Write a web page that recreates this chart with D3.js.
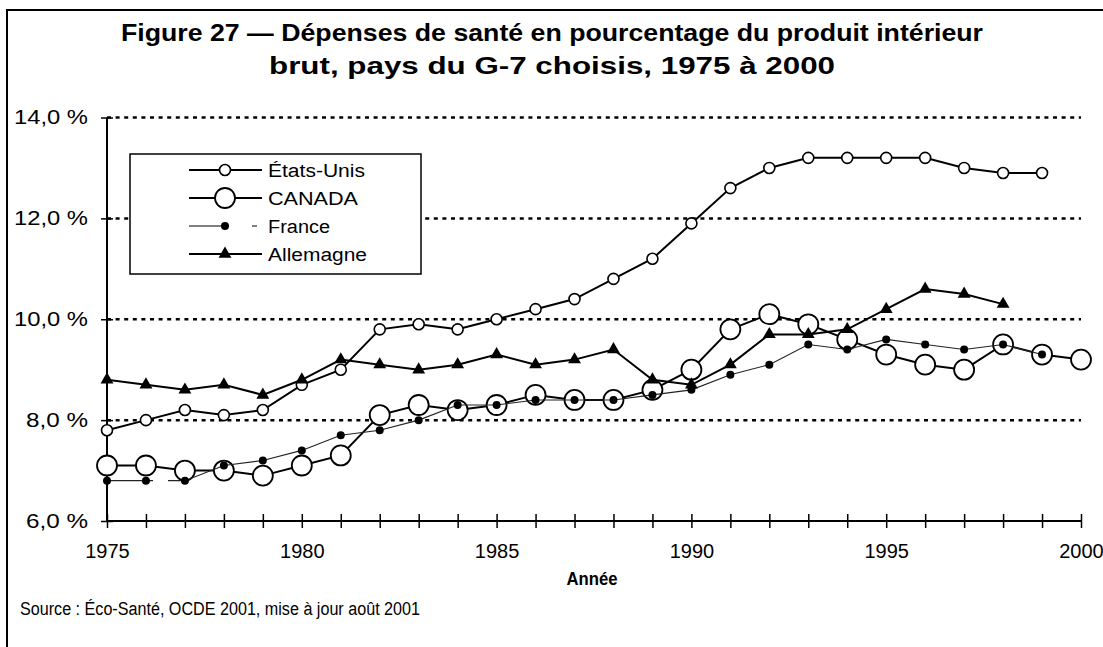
<!DOCTYPE html>
<html>
<head>
<meta charset="utf-8">
<script src="https://cdn.jsdelivr.net/npm/d3@7"></script>
<style>
  body { margin: 0; background: #fff; }
  svg { font-family: "Liberation Sans", Arial, sans-serif; }
</style>
</head>
<body>
<script>
// data (%, 1975 -> 2000)
var years = [1975,1976,1977,1978,1979,1980,1981,1982,1983,1984,1985,1986,1987,
             1988,1989,1990,1991,1992,1993,1994,1995,1996,1997,1998,1999,2000];
var usValues      = [7.8,8.0,8.2,8.1,8.2,8.7,9.0,9.8,9.9,9.8,10.0,10.2,10.4,10.8,11.2,11.9,12.6,13.0,13.2,13.2,13.2,13.2,13.0,12.9,12.9,null];
var canadaValues  = [7.1,7.1,7.0,7.0,6.9,7.1,7.3,8.1,8.3,8.2,8.3,8.5,8.4,8.4,8.6,9.0,9.8,10.1,9.9,9.6,9.3,9.1,9.0,9.5,9.3,9.2];
var franceValues  = [6.8,6.8,6.8,7.1,7.2,7.4,7.7,7.8,8.0,8.3,8.3,8.4,8.4,8.4,8.5,8.6,8.9,9.1,9.5,9.4,9.6,9.5,9.4,9.5,9.3,null];
var germanyValues = [8.8,8.7,8.6,8.7,8.5,8.8,9.2,9.1,9.0,9.1,9.3,9.1,9.2,9.4,8.8,8.7,9.1,9.7,9.7,9.8,10.2,10.6,10.5,10.3,null,null];
var seriesNames = ["États-Unis", "CANADA", "France", "Allemagne"];
var yTicks = [6, 8, 10, 12, 14];
var xLabelYears = [1975, 1980, 1985, 1990, 1995, 2000];

var titleLines = ["Figure 27 — Dépenses de santé en pourcentage du produit intérieur",
                  "brut, pays du G-7 choisis, 1975 à 2000"];
var sourceText = "Source : Éco-Santé, OCDE 2001, mise à jour août 2001";

var W = 1103, H = 647;
var svg = d3.select("body").append("svg")
    .attr("width", W).attr("height", H);

// outer frame (only top and left edges fall inside the picture)
svg.append("rect")
    .attr("x", 7).attr("y", 10).attr("width", 1110).attr("height", 700)
    .attr("fill", "#fff").attr("stroke", "#000").attr("stroke-width", 2);

// title
svg.selectAll(".title").data(titleLines).enter().append("text")
    .attr("class", "title")
    .attr("x", 552)
    .attr("y", function(d, i) { return 41 + i * 33; })
    .attr("text-anchor", "middle")
    .attr("textLength", function(d, i) { return i == 0 ? 862 : 566; })
    .attr("lengthAdjust", "spacingAndGlyphs")
    .style("font-size", "24px").style("font-weight", "bold")
    .text(function(d) { return d; });

var xScale = d3.scaleLinear().domain([1975, 2000]).range([107, 1081]);
var yScale = d3.scaleLinear().domain([6, 14]).range([521, 117.5]);

// dotted gridlines
svg.append("g").selectAll("line")
    .data(yTicks.filter(function(d) { return d > 6; }))
    .enter().append("line")
    .attr("x1", xScale(1975)).attr("x2", xScale(2000))
    .attr("y1", function(d) { return yScale(d); })
    .attr("y2", function(d) { return yScale(d); })
    .attr("stroke", "#000").attr("stroke-width", 2.5)
    .attr("stroke-dasharray", "4,4.6");

// y axis
var yAxis = d3.axisLeft(yScale).tickValues(yTicks).tickSize(6)
    .tickFormat(function(d) { return d3.format(".1f")(d).replace(".", ",") + " %"; });
var gy = svg.append("g")
    .attr("transform", "translate(" + xScale(1975) + ",0)")
    .call(yAxis);
gy.select(".domain").attr("stroke-width", 2).attr("d", "M0," + yScale(14) + "V" + yScale(6));
gy.selectAll(".tick line").attr("x1", 6).attr("x2", -6).attr("stroke-width", 1.5);
gy.selectAll(".tick text").attr("x", -19)
    .attr("textLength", function(d) { return d >= 10 ? 74 : 62; })
    .attr("lengthAdjust", "spacingAndGlyphs")
    .attr("font-size", 20).attr("font-family", "Liberation Sans, Arial, sans-serif")
    .attr("fill", "#000");

// x axis
var xAxis = d3.axisBottom(xScale).tickValues(years).tickSize(6)
    .tickFormat(function(d) { return xLabelYears.indexOf(d) >= 0 ? d : ""; });
var gx = svg.append("g")
    .attr("transform", "translate(0," + yScale(6) + ")")
    .call(xAxis);
gx.select(".domain").attr("stroke-width", 2).attr("d", "M" + xScale(1975) + ",0H" + xScale(2000));
gx.selectAll(".tick line").attr("y1", -7).attr("y2", 7).attr("stroke-width", 1.5);
gx.selectAll(".tick text").attr("y", 23)
    .attr("font-size", 20).attr("font-family", "Liberation Sans, Arial, sans-serif")
    .attr("fill", "#000");

svg.append("text")
    .attr("x", 592).attr("y", 585)
    .attr("text-anchor", "middle")
    .attr("textLength", 51).attr("lengthAdjust", "spacingAndGlyphs")
    .style("font-size", "18px").style("font-weight", "bold")
    .text("Année");

svg.append("text")
    .attr("x", 20).attr("y", 615)
    .attr("textLength", 400).attr("lengthAdjust", "spacingAndGlyphs")
    .style("font-size", "18px")
    .text(sourceText);

// series
function toPoints(vals) {
    return years.map(function(y, i) { return {year: y, value: vals[i]}; })
        .filter(function(d) { return d.value != null; });
}
var line = d3.line()
    .x(function(d) { return xScale(d.year); })
    .y(function(d) { return yScale(d.value); });

var series = [
    {name: seriesNames[0], values: toPoints(usValues),      width: 2,   dash: null,          marker: "smallCircle"},
    {name: seriesNames[1], values: toPoints(canadaValues),  width: 2,   dash: null,          marker: "bigCircle"},
    {name: seriesNames[2], values: toPoints(franceValues),  width: 1.1, dash: "46,15,2000",  marker: "dot"},
    {name: seriesNames[3], values: toPoints(germanyValues), width: 2,   dash: null,          marker: "triangle"}
];

function drawMarker(sel, type) {
    if (type == "smallCircle") {
        sel.append("circle").attr("r", 5.5)
            .attr("fill", "#fff").attr("stroke", "#000").attr("stroke-width", 1.6);
    } else if (type == "bigCircle") {
        sel.append("circle").attr("r", 10)
            .attr("fill", "#fff").attr("stroke", "#000").attr("stroke-width", 1.8);
    } else if (type == "dot") {
        sel.append("circle").attr("r", 4).attr("fill", "#000");
    } else {
        sel.append("path").attr("d", d3.symbol().type(d3.symbolTriangle).size(72))
            .attr("fill", "#000");
    }
}

series.forEach(function(s) {
    var g = svg.append("g").attr("class", "series");
    g.append("path")
        .datum(s.values)
        .attr("d", line)
        .attr("fill", "none")
        .attr("stroke", s.marker == "dot" ? "#222" : "#000")
        .attr("stroke-width", s.width)
        .attr("stroke-dasharray", s.dash);
    var m = g.selectAll(".m").data(s.values).enter().append("g")
        .attr("class", "m")
        .attr("transform", function(d) { return "translate(" + xScale(d.year) + "," + yScale(d.value) + ")"; });
    drawMarker(m, s.marker);
});

// legend
var legend = svg.append("g");
legend.append("rect")
    .attr("x", 130).attr("y", 154).attr("width", 291).attr("height", 120)
    .attr("fill", "#fff").attr("stroke", "#000").attr("stroke-width", 1.5);

var legendWidths = [97, 90, 62, 99];
var items = legend.selectAll(".legend").data(series).enter().append("g")
    .attr("class", "legend")
    .attr("transform", function(d, i) { return "translate(0," + (170 + i * 28) + ")"; });
items.append("line")
    .attr("x1", 189).attr("x2", 262)
    .attr("stroke", "#000")
    .attr("stroke-width", function(d) { return d.width; })
    .attr("stroke-dasharray", function(d) { return d.marker == "dot" ? "40,23,5,20" : null; });
items.each(function(d) {
    var mg = d3.select(this).append("g").attr("transform", "translate(225,0)");
    drawMarker(mg, d.marker);
});
items.append("text")
    .attr("x", 268).attr("y", 6.5)
    .attr("textLength", function(d, i) { return legendWidths[i]; })
    .attr("lengthAdjust", "spacingAndGlyphs")
    .style("font-size", "18px")
    .text(function(d) { return d.name; });
</script>
</body>
</html>
